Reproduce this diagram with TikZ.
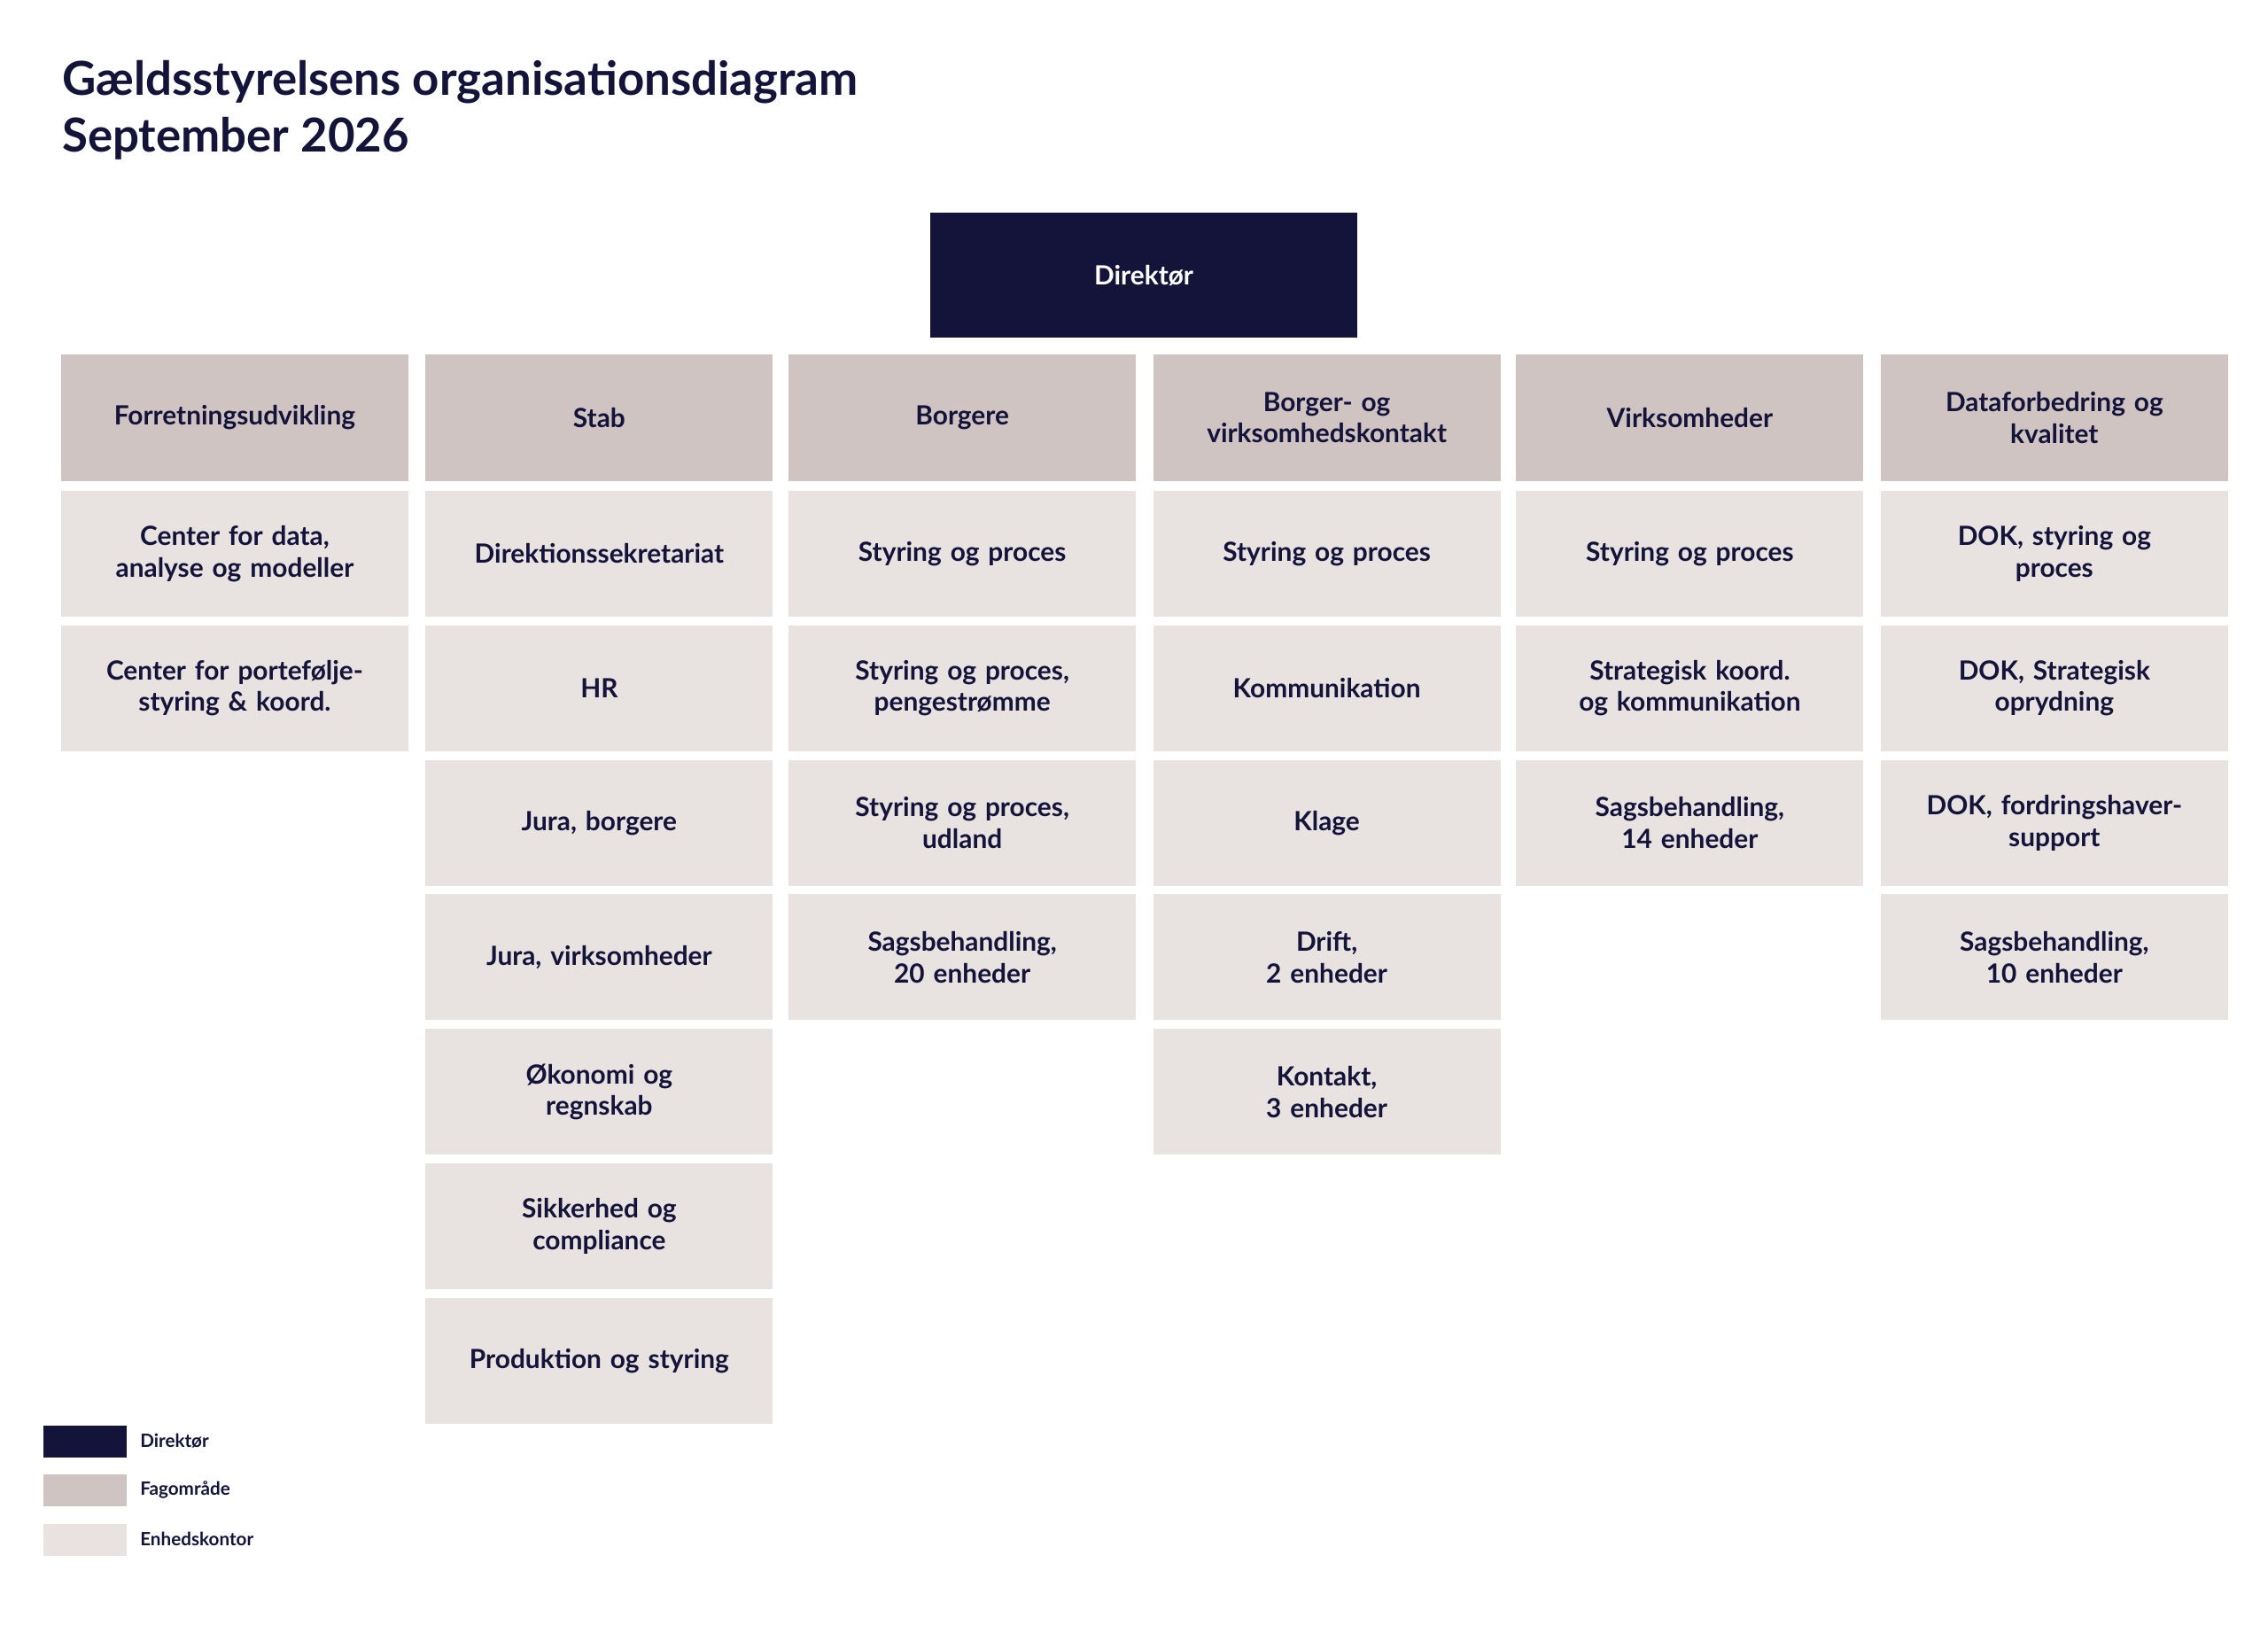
\documentclass[tikz,border=0pt]{standalone}
\usepackage{fontspec}
\setmainfont{Lato}
\definecolor{navy}{HTML}{14143A}
\definecolor{fag}{HTML}{D0C4C3}
\definecolor{enh}{HTML}{E8E2E0}
\begin{document}
\begin{tikzpicture}[x=0.25mm,y=-0.25mm,
 box/.style={anchor=north west,minimum width=60mm,minimum height=21.75mm,inner sep=0pt,align=center,text width=56mm,font=\fontsize{13}{15.5}\selectfont\bfseries,text=navy},
 head/.style={box,fill=fag},
 unit/.style={box,fill=enh},
 leg/.style={anchor=north west,minimum width=14.25mm,minimum height=5.5mm,inner sep=0pt},
 legt/.style={anchor=west,font=\fontsize{9}{10}\selectfont\bfseries,text=navy}]
\useasboundingbox[fill=white] (0,0) rectangle (1568,1123);
\node[anchor=west,font=\fontsize{23}{28}\selectfont\bfseries,text=navy,align=left] (title) at (38,76) {Gældsstyrelsens organisationsdiagram\\September 2026};
\node[anchor=north west,fill=navy,minimum width=73.75mm,minimum height=21.5mm,inner sep=0pt,text=white,font=\fontsize{13}{15.5}\selectfont\bfseries] (dir) at (643,147) {Direktør};
% headers
\node[head] (h1) at (42,245) {Forretningsudvikling};
\node[head] (h2) at (294,245) {Stab};
\node[head] (h3) at (545,245) {Borgere};
\node[head] (h4) at (797,245) {Borger- og\\virksomhedskontakt};
\node[head] (h5) at (1048,245) {Virksomheder};
\node[head] (h6) at (1300,245) {Dataforbedring og\\kvalitet};
% col1
\node[unit] (a1) at (42,339) {Center for data,\\analyse og modeller};
\node[unit] (a2) at (42,432) {Center for portefølje-\\styring \& koord.};
% col2
\node[unit] (b1) at (294,339) {Direktionssekretariat};
\node[unit] (b2) at (294,432) {HR};
\node[unit] (b3) at (294,525) {Jura, borgere};
\node[unit] (b4) at (294,618) {Jura, virksomheder};
\node[unit] (b5) at (294,711) {Økonomi og\\regnskab};
\node[unit] (b6) at (294,804) {Sikkerhed og\\compliance};
\node[unit] (b7) at (294,897) {Produktion og styring};
% col3
\node[unit] (c1) at (545,339) {Styring og proces};
\node[unit] (c2) at (545,432) {Styring og proces,\\pengestrømme};
\node[unit] (c3) at (545,525) {Styring og proces,\\udland};
\node[unit] (c4) at (545,618) {Sagsbehandling,\\20 enheder};
% col4
\node[unit] (d1) at (797,339) {Styring og proces};
\node[unit] (d2) at (797,432) {Kommunikation};
\node[unit] (d3) at (797,525) {Klage};
\node[unit] (d4) at (797,618) {Drift,\\2 enheder};
\node[unit] (d5) at (797,711) {Kontakt,\\3 enheder};
% col5
\node[unit] (e1) at (1048,339) {Styring og proces};
\node[unit] (e2) at (1048,432) {Strategisk koord.\\og kommunikation};
\node[unit] (e3) at (1048,525) {Sagsbehandling,\\14 enheder};
% col6
\node[unit] (f1) at (1300,339) {DOK, styring og\\proces};
\node[unit] (f2) at (1300,432) {DOK, Strategisk\\oprydning};
\node[unit] (f3) at (1300,525) {DOK, fordringshaver-\\support};
\node[unit] (f4) at (1300,618) {Sagsbehandling,\\10 enheder};
% legend
\node[leg,fill=navy] (l1) at (30,985) {};
\node[leg,fill=fag] (l2) at (30,1019) {};
\node[leg,fill=enh] (l3) at (30,1053) {};
\node[legt] (t1) at (92,996) {Direktør};
\node[legt] (t2) at (92,1030) {Fagområde};
\node[legt] (t3) at (92,1064) {Enhedskontor};
\end{tikzpicture}
\end{document}
